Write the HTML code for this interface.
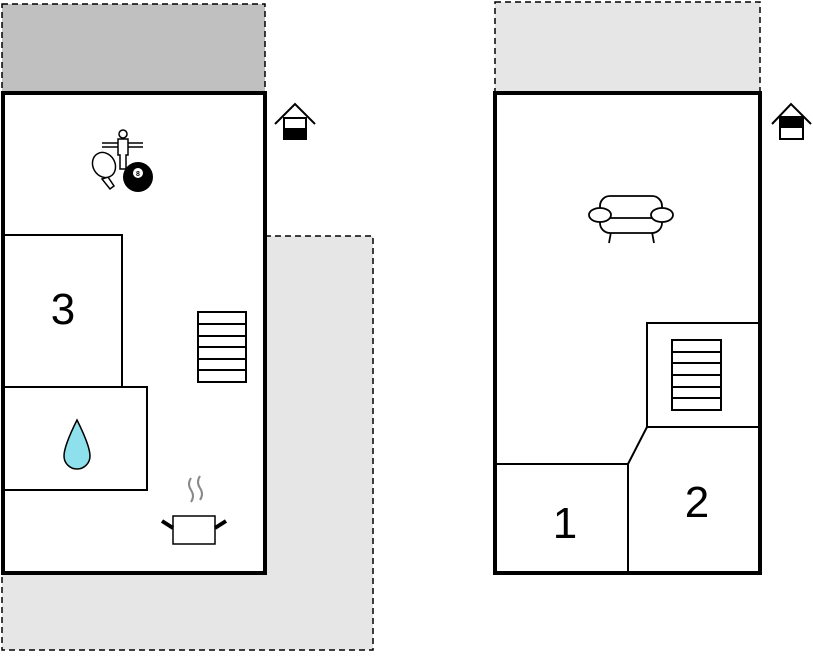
<!DOCTYPE html>
<html><head><style>body{margin:0;background:#fff}</style></head><body>
<svg width="813" height="652" xmlns="http://www.w3.org/2000/svg" font-family="Liberation Sans, sans-serif">
<!-- left outside areas -->
<rect x="2" y="4" width="263" height="89" fill="#c0c0c0" stroke="#000" stroke-width="1.5" stroke-dasharray="6,4"/>
<path d="M265 236 H373 V650 H2 V573 H265 Z" fill="#e6e6e6" stroke="#000" stroke-width="1.5" stroke-dasharray="6,4"/>
<rect x="3" y="93" width="262" height="480" fill="#fff" stroke="#000" stroke-width="4"/>
<rect x="3" y="235" width="119" height="152" fill="none" stroke="#000" stroke-width="2"/>
<rect x="3" y="387" width="144" height="103" fill="none" stroke="#000" stroke-width="2"/>
<text x="63" y="324" font-size="44" text-anchor="middle">3</text>
<path d="M77 420 Q64 446 64 456 A13 13 0 0 0 90 456 Q90 446 77 420 Z" fill="#8ee0ec" stroke="#000" stroke-width="1.5"/>
<g stroke="#000" stroke-width="2" fill="#fff"><rect x="198" y="312" width="48" height="70"/>
<line x1="198" y1="324" x2="246" y2="324"/><line x1="198" y1="336" x2="246" y2="336"/><line x1="198" y1="347" x2="246" y2="347"/><line x1="198" y1="359" x2="246" y2="359"/><line x1="198" y1="370" x2="246" y2="370"/></g>
<!-- pot -->
<g stroke="#888" stroke-width="2" fill="none"><path d="M191 478 q-4 6 0 12 q4 6 0 12"/><path d="M200 476 q-4 6 0 12 q4 6 0 12"/></g>
<rect x="173" y="516" width="42" height="28" fill="#fff" stroke="#000" stroke-width="1.5"/>
<line x1="162" y1="521" x2="173" y2="528" stroke="#000" stroke-width="4"/>
<line x1="215" y1="528" x2="226" y2="521" stroke="#000" stroke-width="4"/>
<!-- games -->
<g stroke="#000" stroke-width="1.5" fill="#fff">
<line x1="102" y1="143" x2="143" y2="143"/><line x1="102" y1="147" x2="143" y2="147"/>
<circle cx="123" cy="134" r="4"/><path d="M118 139 h10 v16 h-2 v14 h-6 v-14 h-2 z"/>
<path d="M108 177 l6 9 l-4 3 l-8 -10 z"/>
<ellipse cx="104" cy="165" rx="11" ry="13" transform="rotate(-30 104 165)"/>
</g>
<circle cx="138" cy="177" r="15" fill="#000"/><circle cx="138" cy="173" r="5" fill="#fff"/>
<text x="138" y="176" font-size="7" text-anchor="middle" font-weight="bold">8</text>
<!-- house icon left -->
<g stroke="#000" stroke-width="2" fill="#fff"><path d="M275 124 L295 104 L315 124" fill="none"/><rect x="284" y="118" width="22" height="21"/></g>
<rect x="284" y="128" width="22" height="11" fill="#000"/>
<!-- right -->
<rect x="495" y="2" width="265" height="91" fill="#e6e6e6" stroke="#000" stroke-width="1.5" stroke-dasharray="6,4"/>
<rect x="495" y="93" width="265" height="480" fill="#fff" stroke="#000" stroke-width="4"/>
<rect x="647" y="323" width="113" height="104" fill="none" stroke="#000" stroke-width="2"/>
<path d="M495 464 H628 V573 M628 464 L647 427" fill="none" stroke="#000" stroke-width="2"/>
<g stroke="#000" stroke-width="2" fill="#fff"><rect x="672" y="340" width="49" height="70"/>
<line x1="672" y1="352" x2="721" y2="352"/><line x1="672" y1="363" x2="721" y2="363"/><line x1="672" y1="375" x2="721" y2="375"/><line x1="672" y1="387" x2="721" y2="387"/><line x1="672" y1="398" x2="721" y2="398"/></g>
<text x="565" y="538" font-size="44" text-anchor="middle">1</text>
<text x="697" y="517" font-size="44" text-anchor="middle">2</text>
<!-- sofa -->
<g stroke="#000" stroke-width="1.8" fill="#fff">
<line x1="611" y1="232" x2="609" y2="243"/><line x1="652" y1="232" x2="654" y2="243"/>
<rect x="600" y="196" width="62" height="37" rx="10"/>
<line x1="606" y1="218" x2="656" y2="218"/>
<ellipse cx="600" cy="215" rx="11" ry="7"/><ellipse cx="662" cy="215" rx="11" ry="7"/>
</g>
<!-- house icon right -->
<g stroke="#000" stroke-width="2" fill="#fff"><path d="M772 124 L791 104 L811 124" fill="none"/><rect x="780" y="117" width="23" height="22"/></g>
<rect x="780" y="117" width="23" height="11" fill="#000"/>
</svg>
</body></html>
